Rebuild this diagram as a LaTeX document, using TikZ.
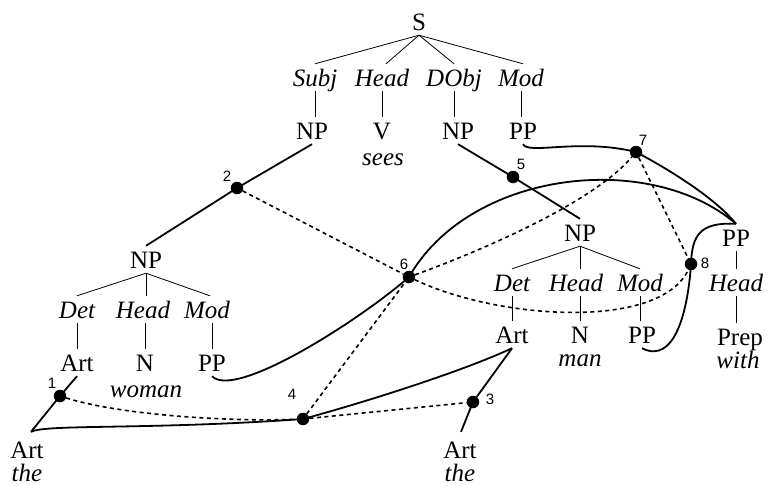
\documentclass[tikz,border=0pt]{standalone}
\usepackage{fontspec}
\setmainfont{Liberation Serif}
\newfontfamily\numfont{Liberation Sans}
\begin{document}
\begin{tikzpicture}[x=1pt,y=-1pt,
  lbl/.style={font=\fontsize{25}{30}\selectfont, inner xsep=0pt, inner ysep=5pt, text height=17pt, text depth=0pt, anchor=base},
  fn/.style={lbl, font=\fontsize{25}{30}\selectfont\itshape},
  word/.style={font=\fontsize{25}{30}\selectfont\itshape, inner sep=0pt, anchor=base},
  num/.style={font=\numfont\fontsize{15}{17}\selectfont, inner sep=0pt},
  dot/.style={circle, fill=black, inner sep=0pt, minimum size=12.5pt},
  tree/.style={line width=0.8pt},
  link/.style={line width=1.8pt},
  dep/.style={line width=1.6pt, dash pattern=on 4pt off 3.5pt},
]
\useasboundingbox (0,0) rectangle (768,485);

% ---------- top tree
\node[lbl] (S) at (419,30) {S};
\node[fn] (Subj) at (315,86) {Subj};
\node[fn] (Head1) at (382,86) {Head};
\node[fn] (DObj) at (454,86) {DObj};
\node[fn] (Mod1) at (521,86) {Mod};
\node[lbl] (NPa) at (312,139) {NP};
\node[lbl] (V) at (382,139) {V};
\node[lbl] (NPb) at (458,139) {NP};
\node[lbl] (PPa) at (523,139) {PP};
\node[word] (sees) at (383,165) {sees};

% ---------- left tree
\node[lbl] (NPl) at (146,268) {NP};
\node[fn] (Detl) at (77,318) {Det};
\node[fn] (Headl) at (143,318) {Head};
\node[fn] (Modl) at (207,318) {Mod};
\node[lbl] (Artl) at (77,371) {Art};
\node[lbl] (Nl) at (145,371) {N};
\node[lbl] (PPl) at (212,371) {PP};
\node[word] (woman) at (146,397) {woman};
\node[lbl] (Art1) at (27,458) {Art};
\node[word] (the1) at (27,481) {the};

% ---------- middle tree
\node[lbl] (NPm) at (580,241) {NP};
\node[fn] (Detm) at (512,291) {Det};
\node[fn] (Headm) at (576,291) {Head};
\node[fn] (Modm) at (640,291) {Mod};
\node[lbl] (Artm) at (512,343) {Art};
\node[lbl] (Nm) at (580,343) {N};
\node[lbl] (PPm) at (642,343) {PP};
\node[word] (man) at (580,366) {man};
\node[lbl] (Art3) at (460,458) {Art};
\node[word] (the3) at (460,481) {the};

% ---------- right tree
\node[lbl] (PPr) at (736,246) {PP};
\node[fn] (Headr) at (736,291) {Head};
\node[lbl, inner ysep=2pt] (Prep) at (740,345) {Prep};
\node[word] (with) at (738,368) {with};

% ---------- tree lines
\draw[tree] (S.south) -- (Subj.north);
\draw[tree] (S.south) -- ([xshift=4pt]Head1.north);
\draw[tree] (S.south) -- (DObj.north);
\draw[tree] (S.south) -- ([xshift=2pt]Mod1.north);
\draw[tree] (Subj.south) -- (NPa.north -| Subj.south);
\draw[tree] (Head1.south) -- (V.north);
\draw[tree] (DObj.south) -- (NPb.north -| DObj.south);
\draw[tree] (Mod1.south) -- (PPa.north -| Mod1.south);

\draw[tree] (NPl.south) -- (Detl.north);
\draw[tree] (NPl.south) -- (Headl.north -| NPl.south);
\draw[tree] (NPl.south) -- ([xshift=3pt]Modl.north);
\draw[tree] (Detl.south) -- (Artl.north);
\draw[tree] (Headl.south -| Nl.north) -- (Nl.north);
\draw[tree] (Modl.south -| PPl.north) -- (PPl.north);

\draw[tree] (NPm.south) -- (Detm.north);
\draw[tree] (NPm.south) -- (Headm.north -| NPm.south);
\draw[tree] (NPm.south) -- (Modm.north);
\draw[tree] (Detm.south) -- (Artm.north);
\draw[tree] (Headm.south -| Nm.north) -- (Nm.north);
\draw[tree] (Modm.south) -- (PPm.north -| Modm.south);

\draw[tree] (PPr.south) -- (Headr.north);
\draw[tree] (Headr.south) -- ([yshift=3pt]Prep.north -| Headr.south);

% ---------- dots
\node[dot] (n1) at (60,396) {};
\node[dot] (n2) at (237,188) {};
\node[dot] (n3) at (473,402) {};
\node[dot] (n4) at (303,419) {};
\node[dot] (n5) at (513,177) {};
\node[dot] (n6) at (409,277) {};
\node[dot] (n7) at (636,152) {};
\node[dot] (n8) at (691,264) {};
\node[num] (l1) at (52,383) {1};
\node[num] (l2) at (227,176) {2};
\node[num] (l3) at (490,399) {3};
\node[num] (l4) at (292,394) {4};
\node[num] (l5) at (521,164) {5};
\node[num] (l6) at (404,264) {6};
\node[num] (l7) at (643,140) {7};
\node[num] (l8) at (705,263) {8};

\coordinate (a1) at ([xshift=4pt,yshift=4pt]Art1.north);
\coordinate (a3) at ([xshift=1pt,yshift=4pt]Art3.north);

% ---------- heavy links
\draw[link] (NPa.south) -- (n2.center) -- (NPl.north);
\draw[link] (NPb.south) -- (n5.center) -- (NPm.north);
\draw[link] (Artl.south) -- (n1.center) -- (a1);
\draw[link] (Artm.south) -- (n3.center) -- (a3);

% ---------- solid curves
\draw[link] (a1) .. controls (45,424) and (150,430) .. (n4.center)
  .. controls (380,398) and (470,368) .. (Artm.south);
\draw[link] (PPl.south) .. controls (235,400) and (360,320) .. (n6.center)
  .. controls (470,170) and (650,150) .. (PPr.north);
\draw[link] (PPa.south) .. controls (528,155) and (580,138) .. (n7.center)
  .. controls (670,170) and (715,198) .. (PPr.north);
\draw[link] (PPm.south) .. controls (675,365) and (688,310) .. (n8.center)
  .. controls (692,235) and (700,222) .. (PPr.north);

% ---------- dotted dependencies
\draw[dep] (n1) .. controls (120,415) and (230,422) .. (n4);
\draw[dep] (n4) -- (n3);
\draw[dep] (n4) -- (n6);
\draw[dep] (n2) -- (n6);
\draw[dep] (n6) .. controls (510,240) and (600,195) .. (n7);
\draw[dep] (n6) .. controls (500,320) and (660,330) .. (n8);
\draw[dep] (n7) -- (n8);
\end{tikzpicture}
\end{document}
